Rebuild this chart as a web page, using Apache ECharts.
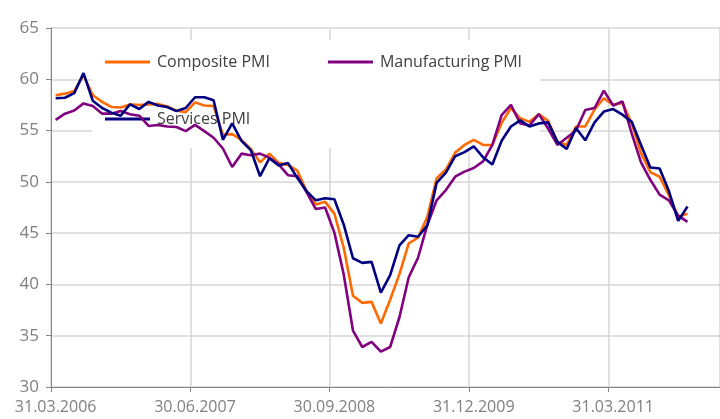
<!DOCTYPE html>
<html>
<head>
<meta charset="utf-8">
<script src="https://cdn.jsdelivr.net/npm/echarts@6/dist/echarts.min.js"></script>
<style>
html,body{margin:0;padding:0;background:#fff;}
#chart{width:720px;height:419px;}
</style>
</head>
<body>
<div id="chart"></div>
<script>
// Monthly observations from March 2006 (category axis extends to Feb 2012)
const startYear = 2006, startMonth = 3, monthCount = 72;
const tickLabels = ["31.03.2006", "30.06.2007", "30.09.2008", "31.12.2009", "31.03.2011"];

const compositePMI = [58.45, 58.6, 58.85, 60.4, 58.45, 57.8, 57.3, 57.25, 57.55, 57.5,
  57.55, 57.6, 57.35, 56.95, 56.8, 57.75, 57.45, 57.4, 54.6, 54.65,
  54.1, 53.2, 51.9, 52.75, 51.85, 51.65, 51.1, 49.1, 47.8, 48.05,
  46.9, 43.6, 38.9, 38.2, 38.3, 36.2, 38.5, 41.0, 44.0, 44.55,
  46.6, 50.35, 51.2, 52.85, 53.6, 54.1, 53.6, 53.6, 55.75, 57.2,
  56.2, 55.85, 56.6, 55.95, 53.9, 53.6, 55.4, 55.4, 57.05, 58.15,
  57.5, 57.7, 55.7, 52.8, 50.95, 50.5, 48.7, 46.6, 46.9];

const manufacturingPMI = [56.05, 56.65, 56.95, 57.65, 57.4, 56.65, 56.65, 56.9, 56.6, 56.45,
  55.45, 55.55, 55.4, 55.35, 54.95, 55.55, 54.95, 54.3, 53.25, 51.45,
  52.75, 52.6, 52.75, 52.35, 51.7, 50.65, 50.55, 49.0, 47.35, 47.5,
  45.05, 41.0, 35.5, 33.9, 34.4, 33.45, 33.9, 36.8, 40.7, 42.6,
  45.8, 48.2, 49.2, 50.5, 51.0, 51.35, 52.0, 53.6, 56.5, 57.5,
  55.7, 55.5, 56.6, 55.2, 53.6, 54.3, 55.0, 57.0, 57.2, 58.9,
  57.45, 57.85, 54.7, 51.9, 50.2, 48.75, 48.2, 46.7, 46.1];

const servicesPMI = [58.15, 58.2, 58.65, 60.6, 57.9, 57.2, 56.75, 56.45, 57.55, 57.1,
  57.8, 57.45, 57.3, 56.9, 57.2, 58.25, 58.25, 57.95, 54.1, 55.7,
  54.0, 53.1, 50.55, 52.3, 51.6, 51.85, 50.4, 49.1, 48.2, 48.4,
  48.3, 45.85, 42.55, 42.1, 42.2, 39.2, 40.9, 43.8, 44.8, 44.65,
  45.75, 49.9, 50.9, 52.5, 52.9, 53.45, 52.4, 51.7, 54.0, 55.4,
  56.0, 55.4, 55.7, 55.8, 53.9, 53.2, 55.25, 54.05, 55.8, 56.85,
  57.1, 56.55, 55.85, 53.6, 51.4, 51.3, 49.1, 46.2, 47.6];

const seriesNames = ["Composite PMI", "Manufacturing PMI", "Services PMI"];
const seriesColors = ["#ff6a00", "#800080", "#000080"];

function pad(n){ return n < 10 ? "0" + n : "" + n; }
const categories = [];
for (let k = 0; k < monthCount; k++) {
  const y = startYear + Math.floor((startMonth - 1 + k) / 12);
  const m = (startMonth - 1 + k) % 12 + 1;
  const d = new Date(y, m, 0).getDate();
  categories.push(pad(d) + "." + pad(m) + "." + y);
}

const chart = echarts.init(document.getElementById('chart'), null, {renderer: 'canvas'});
const FONT = "'Open Sans', sans-serif";
const seriesData = [compositePMI, manufacturingPMI, servicesPMI];

chart.setOption({
  animation: false,
  backgroundColor: '#ffffff',
  grid: {left: 51, top: 28, width: 676, height: 359, containLabel: false},
  graphic: [{
    type: 'rect', z: 1, silent: true,
    shape: {x: 92, y: 40, width: 448, height: 108},
    style: {fill: '#ffffff'}
  }],
  legend: [
    {
      data: [seriesNames[0], seriesNames[1]],
      left: 105, top: 52, padding: 0, itemGap: 58,
      itemWidth: 45, itemHeight: 3, icon: 'rect',
      textStyle: {fontFamily: FONT, fontSize: 16, color: '#404040', lineHeight: 20, padding: [0, 0, 0, 2]}
    },
    {
      data: [seriesNames[2]],
      left: 105, top: 109, padding: 0,
      itemWidth: 45, itemHeight: 3, icon: 'rect',
      textStyle: {fontFamily: FONT, fontSize: 16, color: '#404040', lineHeight: 20, padding: [0, 0, 0, 2]}
    }
  ],
  xAxis: {
    type: 'category',
    data: categories,
    boundaryGap: true,
    axisLine: {lineStyle: {color: '#868686', width: 1}},
    axisTick: {show: true, interval: 14, length: 5, lineStyle: {color: '#868686'}},
    splitLine: {show: true, interval: 14, lineStyle: {color: '#d6d6d6', width: 1.5}},
    axisLabel: {
      interval: 14, margin: 12,
      fontFamily: FONT, fontSize: 16, color: '#808080',
      formatter: function (v) { return tickLabels.indexOf(v) >= 0 ? v : ''; }
    }
  },
  yAxis: {
    type: 'value', min: 30, max: 65, interval: 5,
    axisLine: {show: true, lineStyle: {color: '#868686', width: 1}},
    axisTick: {show: true, length: 5, lineStyle: {color: '#868686'}},
    splitLine: {show: true, lineStyle: {color: '#d6d6d6', width: 1.5}},
    axisLabel: {margin: 12, fontFamily: FONT, fontSize: 17, color: '#808080'}
  },
  series: seriesNames.map(function (name, idx) {
    return {
      name: name, type: 'line', data: seriesData[idx],
      showSymbol: false, symbol: 'none', z: 3 + idx,
      color: seriesColors[idx],
      lineStyle: {width: 2.6, color: seriesColors[idx]}
    };
  })
});
</script>
</body>
</html>
